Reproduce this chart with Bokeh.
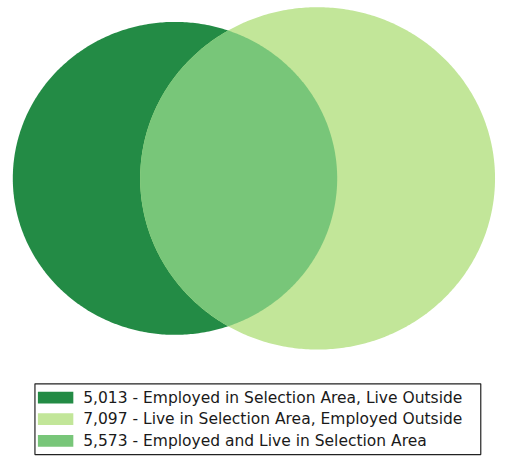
import numpy as np
from bokeh.plotting import figure
from bokeh.models import Range1d, ColumnDataSource
from bokeh.embed import file_html
from bokeh.resources import INLINE
from bokeh.core.properties import value

# ---- data ----
labels = [
    "Employed in Selection Area, Live Outside",
    "Live in Selection Area, Employed Outside",
    "Employed and Live in Selection Area",
]
counts = [5013, 7097, 5573]
colors = ["#238b45", "#c2e699", "#78c679"]

# ---- area-proportional Venn geometry (in abstract units) ----
only_work, only_live, both = counts
r1 = np.sqrt((only_work + both) / np.pi)
r2 = np.sqrt((only_live + both) / np.pi)


def lens_area(d):
    c1 = np.clip((d * d + r1 * r1 - r2 * r2) / (2 * d * r1), -1, 1)
    c2 = np.clip((d * d + r2 * r2 - r1 * r1) / (2 * d * r2), -1, 1)
    k = (-d + r1 + r2) * (d + r1 - r2) * (d - r1 + r2) * (d + r1 + r2)
    return r1 * r1 * np.arccos(c1) + r2 * r2 * np.arccos(c2) - 0.5 * np.sqrt(max(k, 0))


lo, hi = abs(r1 - r2) + 1e-9, r1 + r2 - 1e-9
for _ in range(200):
    mid = 0.5 * (lo + hi)
    if lens_area(mid) > both:
        lo = mid
    else:
        hi = mid
d = 0.5 * (lo + hi)

# ---- layout (reference pixel space) ----
KY = 2.743
KX = KY * 1.035
CY = 181.0
CX_MID = 257.5
left_edge = CX_MID - (r1 + d + r2) * KX / 2
c1 = left_edge + r1 * KX
c2 = c1 + d * KX

th = np.linspace(0, 2 * np.pi, 500)
x1 = c1 + r1 * KX * np.cos(th)
y1 = CY + r1 * KY * np.sin(th)
x2 = c2 + r2 * KX * np.cos(th)
y2 = CY + r2 * KY * np.sin(th)

a = (d * d + r1 * r1 - r2 * r2) / (2 * d)
h = np.sqrt(r1 * r1 - a * a)
phi1 = np.arctan2(h, a)
phi2 = np.arctan2(h, a - d)
t1 = np.linspace(-phi1, phi1, 250)
t2 = np.linspace(phi2, 2 * np.pi - phi2, 250)
xl = np.concatenate([c1 + r1 * KX * np.cos(t1), c2 + r2 * KX * np.cos(t2)])
yl = np.concatenate([CY + r1 * KY * np.sin(t1), CY + r2 * KY * np.sin(t2)])

p = figure(
    width=497, height=456,
    x_range=Range1d(0, 505), y_range=Range1d(464, 0),
    output_backend="svg", toolbar_location=None,
    x_axis_location=None, y_axis_location=None,
    min_border=0,
)
p.grid.visible = False
p.outline_line_color = None
p.background_fill_color = "white"

p.patch(x1, y1, fill_color=colors[0], line_color=None)
p.patch(x2, y2, fill_color=colors[1], line_color=None)
p.patch(xl, yl, fill_color=colors[2], line_color=None)

# ---- legend (drawn manually) ----
BOX_L, BOX_R, BOX_T, BOX_B = 35, 488, 390, 462
PAD, ROW = 3, 22
SW_L, SW_W, SW_H = 38, 36, 12
TXT_X = 84

p.quad(left=[BOX_L], right=[BOX_R], top=[BOX_T], bottom=[BOX_B],
       fill_color="white", line_color="#222222", line_width=1.2)

rows = [BOX_T + PAD + (i + 0.5) * ROW for i in range(len(counts))]
src = ColumnDataSource(dict(
    left=[SW_L] * len(counts),
    right=[SW_L + SW_W] * len(counts),
    top=[yc - SW_H / 2 for yc in rows],
    bottom=[yc + SW_H / 2 for yc in rows],
    color=colors,
    tx=[TXT_X] * len(counts),
    ty=rows,
    txt=[f"{c:,} - {l}" for c, l in zip(counts, labels)],
))
p.quad(left="left", right="right", top="top", bottom="bottom",
       fill_color="color", line_color=None, source=src)
p.text(x="tx", y="ty", text="txt", source=src,
       text_font=value("DejaVu Sans"), text_font_size="15.5px",
       text_baseline="middle", text_align="left", text_color="#1a1a1a")

open("out.html", "w").write(file_html(p, INLINE))
